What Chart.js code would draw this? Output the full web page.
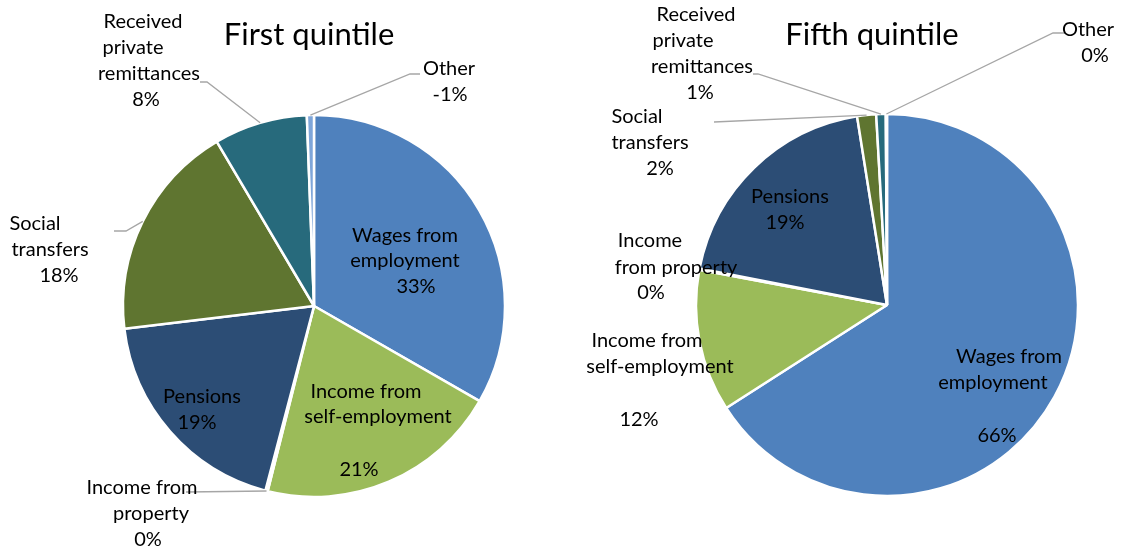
<!DOCTYPE html>
<html>
<head>
<meta charset="utf-8">
<script src="https://cdn.jsdelivr.net/npm/chart.js@4.4.1/dist/chart.umd.min.js"></script>
<style>
  body { margin: 0; background: #fff; }
  .wrap { position: relative; width: 1122px; height: 548px; }
  canvas { position: absolute; top: 0; }
</style>
</head>
<body>
<div class="wrap">
  <canvas id="first" width="561" height="548" style="left:0"></canvas>
  <canvas id="fifth" width="561" height="548" style="left:561px"></canvas>
</div>
<script>
// income sources, shares in % of household income
const categories = ['Wages from employment', 'Income from self-employment', 'Income from property',
  'Pensions', 'Social transfers', 'Received private remittances', 'Other'];
const firstQuintile = [33.3, 20.6, 0.2, 19.0, 18.4, 7.9, -0.6];
const fifthQuintile = [65.8, 12.0, 0.1, 19.4, 1.6, 0.8, 0.1];

const sliceColors = ['#4f81bd', '#9bbb59', '#c0504d', '#2c4d75', '#5f7530', '#276a7c', '#7fa6d9'];

// where each label sits on the page (lines, value line, optional leader bend points)
const firstLabels = [
  { lines: [['Wages from', 405, 236], ['employment', 405, 261]], value: [416, 287] },
  { lines: [['Income from', 366, 392], ['self-employment', 378, 417]], value: [359, 470] },
  { lines: [['Income from', 142, 488], ['property', 151, 514]], value: [148, 540], leader: [[186, 492]] },
  { lines: [['Pensions', 202, 397]], value: [197, 423] },
  { lines: [['Social', 35, 224], ['transfers', 50, 250]], value: [59, 276], leader: [[126, 231], [114, 231]] },
  { lines: [['Received', 143, 22], ['private', 133, 48], ['remittances', 149, 74]], value: [146, 100], leader: [[207, 82], [200, 82]] },
  { lines: [['Other', 449, 69]], value: [450, 95], leader: [[410, 74], [420, 74]] }
];
const fifthLabels = [
  { lines: [['Wages from', 1009, 357], ['employment', 993, 383]], value: [997, 436] },
  { lines: [['Income from', 647, 341], ['self-employment', 660, 367]], value: [639, 420] },
  { lines: [['Income', 650, 241], ['from property', 676, 268]], value: [651, 293] },
  { lines: [['Pensions', 790, 197]], value: [785, 223] },
  { lines: [['Social', 637, 117], ['transfers', 650, 143]], value: [660, 169], leader: [[714, 122]] },
  { lines: [['Received', 696, 15], ['private', 683, 41], ['remittances', 702, 67]], value: [700, 93], leader: [[758, 74], [753, 74]] },
  { lines: [['Other', 1088, 30]], value: [1095, 56], leader: [[1053, 33], [1065, 33]] }
];

const pieLabels = {
  id: 'pieLabels',
  afterDatasetsDraw(chart, args, opts) {
    const ctx = chart.ctx;
    const meta = chart.getDatasetMeta(0);
    const values = chart.data.datasets[0].data;
    const dx = opts.offset;
    ctx.save();
    ctx.fillStyle = '#000';
    ctx.textAlign = 'center';
    ctx.textBaseline = 'middle';
    ctx.font = '31px Lato';
    ctx.fillText(opts.title[0], opts.title[1] - dx, opts.title[2]);

    ctx.font = '20px Lato';
    opts.labels.forEach((lab, i) => {
      const arc = meta.data[i];
      if (lab.leader) {
        const mid = (arc.startAngle + arc.endAngle) / 2;
        ctx.beginPath();
        ctx.moveTo(arc.x + Math.cos(mid) * arc.outerRadius, arc.y + Math.sin(mid) * arc.outerRadius);
        lab.leader.forEach(p => ctx.lineTo(p[0] - dx, p[1]));
        ctx.strokeStyle = '#a6a6a6';
        ctx.lineWidth = 1.3;
        ctx.stroke();
      }
      lab.lines.forEach(l => ctx.fillText(l[0], l[1] - dx, l[2]));
      ctx.fillText(Math.round(values[i]) + '%', lab.value[0] - dx, lab.value[1]);
    });
    ctx.restore();
  }
};

function makePie(id, values, labels, title, offset, padding) {
  return new Chart(document.getElementById(id), {
    type: 'pie',
    data: {
      labels: categories,
      datasets: [{
        data: values,
        backgroundColor: sliceColors,
        borderColor: '#fff',
        borderWidth: 2.5,
        radius: 191
      }]
    },
    options: {
      responsive: false,
      animation: false,
      layout: { padding: padding },
      plugins: {
        legend: { display: false },
        tooltip: { enabled: false },
        pieLabels: { labels: labels, title: title, offset: offset }
      }
    },
    plugins: [pieLabels]
  });
}

makePie('first', firstQuintile, firstLabels, ['First quintile', 309, 35], 0,
  { left: 123, right: 56, top: 115, bottom: 51 });
makePie('fifth', fifthQuintile, fifthLabels, ['Fifth quintile', 872, 35], 561,
  { left: 135, right: 44, top: 114, bottom: 52 });
</script>
</body>
</html>
